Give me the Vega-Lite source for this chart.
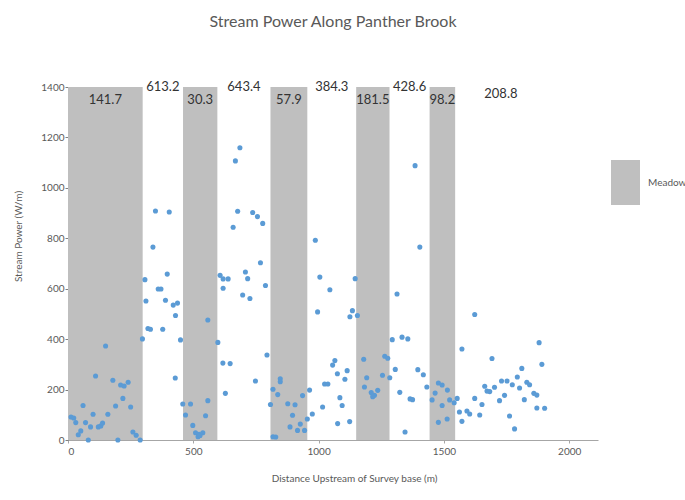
{
  "$schema": "https://vega.github.io/schema/vega-lite/v6.json",
  "width": 530,
  "height": 353,
  "autosize": {"type": "none"},
  "padding": {"left": 68, "top": 87, "right": 87, "bottom": 60},
  "background": "white",
  "config": {
    "view": {"stroke": null},
    "font": "Lato",
    "axis": {"grid": false, "labelColor": "#595959", "titleColor": "#595959", "labelFont": "Lato", "titleFont": "Lato", "labelFontSize": 10, "titleFontSize": 10, "titleFontWeight": "normal"}
  },
  "title": {"text": "Stream Power Along Panther Brook", "fontSize": 16, "fontWeight": "normal", "color": "#595959", "anchor": "middle", "offset": 51, "font": "Lato"},
  "datasets": {
    "segments": [
      {"start": 0, "end": 298, "type": "Meadow", "label": 141.7},
      {"start": 298, "end": 459, "type": "Other", "label": 613.2},
      {"start": 459, "end": 596, "type": "Meadow", "label": 30.3},
      {"start": 596, "end": 808, "type": "Other", "label": 643.4},
      {"start": 808, "end": 955, "type": "Meadow", "label": 57.9},
      {"start": 955, "end": 1150, "type": "Other", "label": 384.3},
      {"start": 1150, "end": 1283, "type": "Meadow", "label": 181.5},
      {"start": 1283, "end": 1443, "type": "Other", "label": 428.6},
      {"start": 1443, "end": 1545, "type": "Meadow", "label": 98.2},
      {"start": 1545, "end": 1910, "type": "Last", "label": 208.8}
    ],
    "points": [
      {"distance": 349, "power": 908}, {"distance": 404, "power": 904}, {"distance": 339, "power": 765}, {"distance": 396, "power": 658},
      {"distance": 307, "power": 636}, {"distance": 360, "power": 599}, {"distance": 371, "power": 599}, {"distance": 311, "power": 551},
      {"distance": 389, "power": 554}, {"distance": 319, "power": 442}, {"distance": 329, "power": 439}, {"distance": 378, "power": 439},
      {"distance": 297, "power": 401}, {"distance": 150, "power": 373}, {"distance": 110, "power": 254}, {"distance": 179, "power": 237},
      {"distance": 210, "power": 218}, {"distance": 224, "power": 214}, {"distance": 240, "power": 229}, {"distance": 219, "power": 165},
      {"distance": 60, "power": 137}, {"distance": 190, "power": 135}, {"distance": 250, "power": 131}, {"distance": 100, "power": 102},
      {"distance": 159, "power": 102}, {"distance": 12, "power": 91}, {"distance": 23, "power": 87}, {"distance": 31, "power": 69},
      {"distance": 70, "power": 69}, {"distance": 90, "power": 52}, {"distance": 121, "power": 52}, {"distance": 131, "power": 56},
      {"distance": 138, "power": 67}, {"distance": 51, "power": 36}, {"distance": 41, "power": 21}, {"distance": 81, "power": 0},
      {"distance": 199, "power": 0}, {"distance": 259, "power": 32}, {"distance": 272, "power": 19}, {"distance": 288, "power": 0},
      {"distance": 686, "power": 1159}, {"distance": 668, "power": 1107}, {"distance": 677, "power": 907}, {"distance": 737, "power": 902},
      {"distance": 756, "power": 886}, {"distance": 777, "power": 859}, {"distance": 659, "power": 844}, {"distance": 768, "power": 703},
      {"distance": 607, "power": 653}, {"distance": 619, "power": 639}, {"distance": 639, "power": 639}, {"distance": 708, "power": 666},
      {"distance": 717, "power": 640}, {"distance": 619, "power": 602}, {"distance": 788, "power": 613}, {"distance": 697, "power": 575},
      {"distance": 726, "power": 561}, {"distance": 420, "power": 535}, {"distance": 437, "power": 543}, {"distance": 429, "power": 494},
      {"distance": 558, "power": 476}, {"distance": 449, "power": 397}, {"distance": 598, "power": 387}, {"distance": 794, "power": 337},
      {"distance": 618, "power": 305}, {"distance": 647, "power": 303}, {"distance": 428, "power": 246}, {"distance": 748, "power": 234},
      {"distance": 628, "power": 185}, {"distance": 458, "power": 143}, {"distance": 489, "power": 143}, {"distance": 558, "power": 156},
      {"distance": 469, "power": 99}, {"distance": 549, "power": 96}, {"distance": 498, "power": 58}, {"distance": 509, "power": 29},
      {"distance": 523, "power": 23}, {"distance": 538, "power": 29}, {"distance": 519, "power": 13}, {"distance": 527, "power": 18},
      {"distance": 987, "power": 792}, {"distance": 1005, "power": 646}, {"distance": 1045, "power": 596}, {"distance": 1146, "power": 640},
      {"distance": 996, "power": 508}, {"distance": 1135, "power": 513}, {"distance": 1125, "power": 489}, {"distance": 1155, "power": 494},
      {"distance": 1180, "power": 320}, {"distance": 1065, "power": 315}, {"distance": 1056, "power": 297}, {"distance": 1114, "power": 275},
      {"distance": 1075, "power": 263}, {"distance": 1105, "power": 241}, {"distance": 1192, "power": 247}, {"distance": 847, "power": 243},
      {"distance": 847, "power": 231}, {"distance": 1024, "power": 222}, {"distance": 1037, "power": 222}, {"distance": 1183, "power": 210},
      {"distance": 818, "power": 201}, {"distance": 964, "power": 198}, {"distance": 837, "power": 180}, {"distance": 936, "power": 176},
      {"distance": 1085, "power": 168}, {"distance": 808, "power": 141}, {"distance": 877, "power": 144}, {"distance": 906, "power": 140},
      {"distance": 1094, "power": 137}, {"distance": 1016, "power": 131}, {"distance": 896, "power": 98}, {"distance": 975, "power": 103},
      {"distance": 955, "power": 83}, {"distance": 927, "power": 63}, {"distance": 886, "power": 52}, {"distance": 916, "power": 38},
      {"distance": 944, "power": 38}, {"distance": 1076, "power": 65}, {"distance": 1124, "power": 73}, {"distance": 818, "power": 13},
      {"distance": 829, "power": 12},
      {"distance": 1385, "power": 1088}, {"distance": 1404, "power": 765}, {"distance": 1313, "power": 579}, {"distance": 1294, "power": 398},
      {"distance": 1333, "power": 408}, {"distance": 1356, "power": 401}, {"distance": 1572, "power": 361}, {"distance": 1264, "power": 332},
      {"distance": 1276, "power": 324}, {"distance": 1306, "power": 280}, {"distance": 1396, "power": 279}, {"distance": 1418, "power": 259},
      {"distance": 1255, "power": 257}, {"distance": 1284, "power": 247}, {"distance": 1432, "power": 210}, {"distance": 1210, "power": 188},
      {"distance": 1223, "power": 177}, {"distance": 1236, "power": 197}, {"distance": 1216, "power": 172}, {"distance": 1324, "power": 189},
      {"distance": 1365, "power": 163}, {"distance": 1375, "power": 160}, {"distance": 1478, "power": 226}, {"distance": 1493, "power": 218},
      {"distance": 1514, "power": 198}, {"distance": 1465, "power": 186}, {"distance": 1453, "power": 159}, {"distance": 1493, "power": 137},
      {"distance": 1523, "power": 159}, {"distance": 1541, "power": 148}, {"distance": 1553, "power": 165}, {"distance": 1562, "power": 111},
      {"distance": 1592, "power": 115}, {"distance": 1478, "power": 70}, {"distance": 1513, "power": 83}, {"distance": 1572, "power": 74},
      {"distance": 1345, "power": 32},
      {"distance": 1623, "power": 498}, {"distance": 1880, "power": 386}, {"distance": 1891, "power": 300}, {"distance": 1692, "power": 323},
      {"distance": 1811, "power": 284}, {"distance": 1793, "power": 250}, {"distance": 1730, "power": 234}, {"distance": 1752, "power": 234},
      {"distance": 1773, "power": 219}, {"distance": 1831, "power": 229}, {"distance": 1842, "power": 219}, {"distance": 1802, "power": 206},
      {"distance": 1663, "power": 213}, {"distance": 1702, "power": 209}, {"distance": 1672, "power": 194}, {"distance": 1683, "power": 192},
      {"distance": 1859, "power": 185}, {"distance": 1871, "power": 178}, {"distance": 1742, "power": 177}, {"distance": 1623, "power": 165},
      {"distance": 1821, "power": 160}, {"distance": 1722, "power": 156}, {"distance": 1652, "power": 141}, {"distance": 1871, "power": 127},
      {"distance": 1902, "power": 126}, {"distance": 1603, "power": 103}, {"distance": 1643, "power": 99}, {"distance": 1762, "power": 95},
      {"distance": 1782, "power": 44}
    ]
  },
  "layer": [
    {
      "data": {"name": "segments"},
      "transform": [{"filter": "datum.type === 'Meadow'"}],
      "mark": {"type": "rect", "strokeWidth": 0},
      "encoding": {
        "x": {"field": "start", "type": "quantitative", "title": "Distance Upstream of Survey base (m)", "scale": {"domain": [0, 2115], "nice": false, "zero": false}},
        "x2": {"field": "end"},
        "y": {"datum": 0, "type": "quantitative", "title": "Stream Power (W/m)", "scale": {"domain": [0, 1400], "nice": false}},
        "y2": {"datum": 1400},
        "color": {
          "field": "type", "type": "nominal",
          "scale": {"domain": ["Meadow"], "range": ["#BFBFBF"]},
          "legend": {
            "orient": "none", "legendX": 535, "legendY": 73, "title": null, "padding": 0,
            "symbolType": "M-0.644,-1H0.644V1H-0.644Z", "symbolSize": 2025, "symbolStrokeWidth": 0,
            "labelOffset": 0, "labelFontSize": 10, "labelColor": "#595959", "labelFont": "Lato"
          }
        }
      }
    },
    {
      "data": {"name": "points"},
      "mark": {"type": "circle", "size": 26, "color": "#5B9BD5", "opacity": 1},
      "encoding": {
        "x": {
          "field": "distance", "type": "quantitative", "title": "Distance Upstream of Survey base (m)",
          "axis": {"values": [0, 500, 1000, 1500, 2000], "format": "d", "tickSize": 3, "tickColor": "#A6A6A6", "domainColor": "#A6A6A6", "labelPadding": 3,
                   "titleX": 286, "titleY": 38, "titleAlign": "center", "titleBaseline": "middle"}
        },
        "y": {
          "field": "power", "type": "quantitative", "title": "Stream Power (W/m)",
          "axis": {"values": [0, 200, 400, 600, 800, 1000, 1200, 1400], "format": "d", "tickSize": 3, "tickColor": "#7F7F7F", "domainColor": "#7F7F7F", "labelPadding": 1,
                   "titleX": -50, "titleY": 149, "titleAngle": 270, "titleAlign": "center", "titleBaseline": "middle"}
        }
      }
    },
    {
      "data": {"name": "segments"},
      "transform": [{"filter": "datum.type === 'Meadow'"}, {"calculate": "(datum.start + datum.end) / 2", "as": "mid"}],
      "mark": {"type": "text", "font": "Lato", "fontSize": 13, "color": "#333333", "baseline": "middle", "align": "center"},
      "encoding": {
        "x": {"field": "mid", "type": "quantitative", "title": "Distance Upstream of Survey base (m)"},
        "y": {"datum": 1348, "type": "quantitative", "title": "Stream Power (W/m)"},
        "text": {"field": "label", "type": "quantitative", "format": ".1f"}
      }
    },
    {
      "data": {"name": "segments"},
      "transform": [{"filter": "datum.type === 'Other'"}, {"calculate": "(datum.start + datum.end) / 2", "as": "mid"}],
      "mark": {"type": "text", "font": "Lato", "fontSize": 13, "color": "#333333", "baseline": "middle", "align": "center"},
      "encoding": {
        "x": {"field": "mid", "type": "quantitative", "title": "Distance Upstream of Survey base (m)"},
        "y": {"datum": 1400, "type": "quantitative", "title": "Stream Power (W/m)"},
        "text": {"field": "label", "type": "quantitative", "format": ".1f"}
      }
    },
    {
      "data": {"name": "segments"},
      "transform": [{"filter": "datum.type === 'Last'"}, {"calculate": "(datum.start + datum.end) / 2", "as": "mid"}],
      "mark": {"type": "text", "font": "Lato", "fontSize": 13, "color": "#333333", "baseline": "middle", "align": "center"},
      "encoding": {
        "x": {"field": "mid", "type": "quantitative", "title": "Distance Upstream of Survey base (m)"},
        "y": {"datum": 1372, "type": "quantitative", "title": "Stream Power (W/m)"},
        "text": {"field": "label", "type": "quantitative", "format": ".1f"}
      }
    }
  ]
}
